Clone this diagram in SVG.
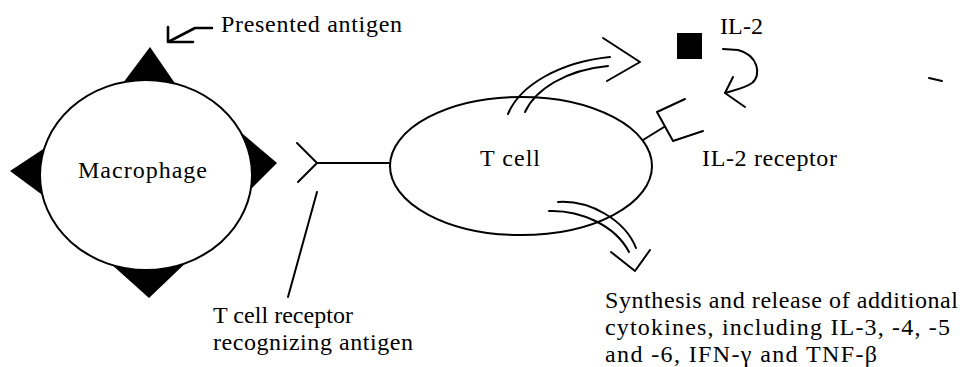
<svg xmlns="http://www.w3.org/2000/svg" width="967" height="367" viewBox="0 0 967 367">
<style>
.ln{fill:none;stroke:#000;stroke-width:2;stroke-linecap:round;stroke-linejoin:round}
.bold{stroke-width:2.6}
.cell{fill:#fff;stroke:#000;stroke-width:2}
.t{font-family:"Liberation Serif","Times New Roman",serif;font-size:24px;fill:#000}
</style>
<rect width="967" height="367" fill="#fff"/>
<g id="macrophage">
<polygon points="150,47 114,95 183,95"/>
<polygon points="10,171 60,138 60,208"/>
<polygon points="277,163 230,123 230,210"/>
<polygon points="149,298 101,255 194,255"/>
<ellipse class="cell" cx="146" cy="175" rx="106" ry="95"/>
<text class="t" x="78" y="178" textLength="129">Macrophage</text>
</g>
<g id="presented-antigen">
<text class="t" x="221" y="32" textLength="181">Presented antigen</text>
</g>
<g id="tcell">
<ellipse class="cell" cx="521" cy="166" rx="131" ry="69"/>
<text class="t" x="480" y="166" textLength="60">T cell</text>
</g>
<g id="tcr">
<path class="ln" d="M297,143 L317,163 L298,182 M317,163 L390,163"/>
<text class="t" x="213" y="323" textLength="140">T cell receptor</text>
<text class="t" x="213" y="350" textLength="200">recognizing antigen</text>
</g>
<g id="il2">
<rect x="677" y="33" width="25" height="26"/>
<text class="t" x="720" y="34" textLength="43">IL-2</text>
</g>
<g id="il2receptor">
<path class="ln" d="M643,140 L664,127 M657,112 L673,141 M657,112 L685,99 M673,141 L703,131"/>
<text class="t" x="702" y="166" textLength="135">IL-2 receptor</text>
</g>
<g id="cytokines">
<text class="t" x="605" y="308" textLength="353">Synthesis and release of additional</text>
<text class="t" x="605" y="335" textLength="345">cytokines, including IL-3, -4, -5</text>
<text class="t" x="605" y="362" textLength="272">and -6, IFN-γ and TNF-β</text>
</g>
<g id="connectors">
<path class="ln bold" d="M212,28 L195,28 L170,41"/>
<path class="ln bold" d="M168,27 L168,42 L193,42"/>
<path class="ln" d="M317,192 L288,297"/>
<path class="ln" d="M508,114 C520,85 560,62 610,57"/>
<path class="ln" d="M525,112 C535,90 565,70 608,66"/>
<path class="ln" d="M603,38 L640,62 L607,81"/>
<path class="ln" d="M558,202 C590,200 625,220 636,248"/>
<path class="ln" d="M549,211 C580,210 615,225 629,252"/>
<path class="ln" d="M611,252 L635,271 L650,250"/>
<path class="ln" d="M723,49 L738,50 C758,55 762,75 752,83 C745,88 735,90 725,93"/>
<path class="ln" d="M733,77 L725,93 L745,107"/>
<path class="ln" d="M929,78 L942,81"/>
</g>
</svg>
